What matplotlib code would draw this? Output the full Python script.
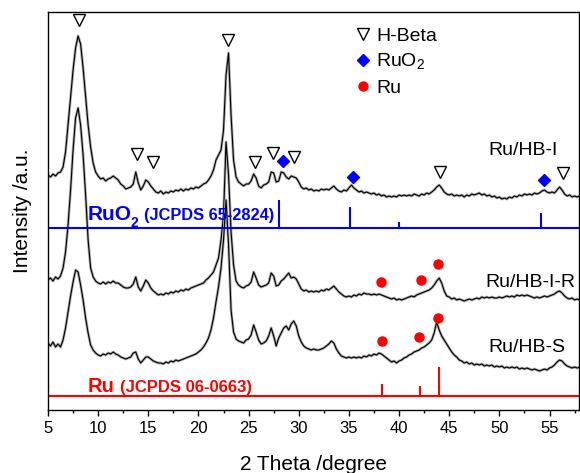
import numpy as np
import matplotlib.pyplot as plt
from matplotlib.lines import Line2D

plt.rcParams['font.family'] = ['Liberation Sans', 'DejaVu Sans']
plt.rcParams['mathtext.fontset'] = 'custom'
plt.rcParams['mathtext.rm'] = 'Liberation Sans'
plt.rcParams['mathtext.bf'] = 'Liberation Sans:bold'

# intensities, 2theta = 5 .. 58 in 0.25 steps (one row per degree)
ru_hb_i = [
    235, 233, 236, 234,   # 5
    237, 238, 243, 258,
    285, 312, 340, 362,
    374, 366, 342, 314,
    285, 263, 247, 238,
    234, 231, 232, 229,   # 10
    231, 232, 234, 232,
    230, 226, 224, 221,
    222, 223, 226, 238,
    227, 220, 224, 230,
    228, 224, 221, 218,   # 15
    217, 219, 216, 218,
    217, 219, 218, 220,
    219, 221, 219, 221,
    220, 222, 221, 223,
    222, 224, 226, 227,   # 20
    230, 234, 240, 250,
    255, 260, 280, 335,
    357, 295, 250, 233,
    228, 226, 224, 226,
    226, 229, 236, 232,   # 25
    224, 222, 225, 226,
    228, 238, 237, 228,
    229, 238, 237, 233,
    231, 234, 233, 232,
    228, 223, 221, 222,   # 30
    220, 221, 219, 220,
    219, 221, 220, 221,
    220, 222, 224, 221,
    219, 218, 220, 219,
    222, 225, 222, 220,   # 35
    218, 219, 217, 218,
    217, 216, 217, 215,
    216, 214, 215, 213,
    214, 213, 214, 213,
    215, 214, 215, 214,   # 40
    215, 214, 216, 215,
    214, 216, 215, 217,
    216, 218, 220, 223,
    225, 222, 218, 216,
    215, 216, 214, 215,   # 45
    214, 215, 213, 215,
    214, 216, 215, 216,
    217, 215, 216, 214,
    215, 213, 214, 212,
    213, 211, 212, 211,   # 50
    213, 212, 214, 213,
    215, 214, 216, 215,
    216, 215, 217, 216,
    217, 219, 220, 218,
    217, 218, 217, 220,   # 55
    223, 220, 216, 214,
    215, 213, 214, 213,
    214,                  # 58
]

ru_hb_i_r = [
    130, 132, 129, 133,   # 5
    131, 134, 142, 158,
    185, 220, 260, 292,
    302, 285, 255, 215,
    170, 142, 133, 129,
    127, 126, 128, 126,   # 10
    128, 127, 129, 127,
    127, 125, 123, 122,
    122, 123, 126, 133,
    123, 119, 124, 130,
    127, 122, 119, 117,   # 15
    115, 116, 115, 117,
    116, 118, 117, 119,
    118, 120, 119, 121,
    120, 122, 123, 124,
    125, 126, 127, 130,   # 20
    132, 135, 138, 145,
    152, 170, 195, 268,
    235, 178, 145, 129,
    125, 123, 122, 124,
    125, 128, 138, 132,   # 25
    125, 123, 124, 125,
    127, 137, 134, 124,
    125, 129, 131, 134,
    137, 132, 133, 131,
    126, 121, 119, 120,   # 30
    118, 119, 118, 119,
    118, 120, 119, 121,
    120, 122, 124, 121,
    118, 116, 114, 113,
    114, 113, 115, 114,   # 35
    116, 115, 117, 116,
    116, 115, 116, 115,
    116, 115, 114, 113,
    112, 111, 112, 110,
    111, 110, 111, 112,   # 40
    113, 114, 113, 115,
    116, 117, 118, 119,
    120, 122, 125, 129,
    132, 127, 119, 114,
    113, 111, 112, 110,   # 45
    111, 110, 109, 110,
    111, 110, 111, 112,
    111, 113, 112, 113,
    112, 113, 112, 112,
    113, 112, 113, 114,   # 50
    113, 114, 113, 115,
    114, 115, 114, 115,
    114, 113, 112, 113,
    112, 113, 114, 113,
    114, 115, 116, 118,   # 55
    119, 117, 114, 112,
    111, 112, 110, 111,
    110,                  # 58
]

ru_hb_s = [
    67, 64, 68, 63,       # 5
    66, 63, 70, 82,
    98, 114, 128, 140,
    138, 125, 110, 92,
    77, 65, 60, 57,
    55, 54, 56, 55,       # 10
    57, 56, 58, 56,
    55, 53, 52, 51,
    52, 53, 57, 58,
    51, 47, 50, 53,
    53, 51, 49, 48,       # 15
    47, 47, 46, 48,
    47, 49, 48, 50,
    49, 50, 51, 52,
    53, 54, 55, 56,
    58, 60, 63, 67,       # 20
    72, 80, 92, 108,
    123, 142, 170, 210,
    165, 100, 78, 71,
    69, 68, 67, 70,
    71, 75, 85, 78,       # 25
    70, 66, 67, 69,
    74, 82, 74, 64,
    72, 77, 82, 84,
    80, 86, 89, 84,
    74, 68, 64, 62,       # 30
    61, 60, 61, 60,
    60, 61, 62, 64,
    66, 69, 67, 61,
    57, 54, 53, 52,
    53, 52, 53, 52,       # 35
    53, 52, 54, 53,
    55, 54, 56, 55,
    57, 56, 54, 52,
    50, 48, 49, 47,
    49, 50, 52, 53,       # 40
    55, 56, 58, 59,
    60, 62, 63, 65,
    67, 70, 77, 88,
    80, 74, 70, 66,
    62, 58, 55, 53,       # 45
    50, 49, 47, 48,
    46, 47, 45, 46,
    45, 46, 44, 45,
    44, 45, 43, 44,
    43, 44, 42, 43,       # 50
    42, 43, 42, 43,
    41, 42, 41, 42,
    41, 40, 41, 40,
    39, 40, 41, 40,
    42, 43, 45, 48,       # 55
    50, 49, 46, 44,
    43, 42, 43, 42,
    43,                   # 58
]

two_theta = np.linspace(5, 58, len(ru_hb_i))

# reference patterns (stick positions and heights)
ruo2_pos = [28.0, 35.1, 40.0, 40.6, 45.0, 54.2]
ruo2_h = [28, 21, 6, 1.5, 1, 15]
ruo2_base = 182
ru_pos = [38.3, 42.1, 44.0]
ru_h = [12, 10, 29]
ru_base = 14

# phase markers
beta_x = [8.1, 22.95, 13.9, 15.5, 25.6, 27.4, 29.5, 44.1, 56.3]
beta_y = [390, 370, 256, 248, 248, 257, 253, 238, 237]
ruo2_x = [28.4, 35.4, 54.5]
ruo2_y = [249, 233, 230]
ru_x = [38.2, 42.2, 43.85, 38.3, 42.0, 43.85]
ru_y = [128, 130, 146, 69, 73, 92]

fig = plt.figure(figsize=(5.8, 4.73), dpi=100)
ax = fig.add_axes([48/580, 63/473, 530.6/580, 398/473])

for trace in (ru_hb_i, ru_hb_i_r, ru_hb_s):
    ax.plot(two_theta, trace, color='0.68', lw=2.0)
    ax.plot(two_theta, trace, color='black', lw=0.8)

ax.axhline(ruo2_base, color='blue', lw=1.5)
ax.vlines(ruo2_pos, ruo2_base, np.array(ruo2_h) + ruo2_base, color='blue', lw=1.5)
ax.axhline(ru_base, color='red', lw=1.5)
ax.vlines(ru_pos, ru_base, np.array(ru_h) + ru_base, color='red', lw=1.5)

ax.plot(beta_x, beta_y, 'v', ls='none', mfc='white', mec='black', ms=9, mew=1)
ax.plot(ruo2_x, ruo2_y, 'D', ls='none', color='blue', ms=6)
ax.plot(ru_x, ru_y, 'o', ls='none', color='red', ms=6.5)

# reference-pattern labels
ax.text(9.0, 190, 'RuO', color='blue', fontsize=15, fontweight='bold', va='baseline')
ax.text(13.25, 183, '2', color='blue', fontsize=10, fontweight='bold', va='baseline')
ax.text(14.55, 190, '(JCPDS 65-2824)', color='blue', fontsize=11.8, fontweight='bold', va='baseline')
ax.text(9.0, 18, 'Ru', color='red', fontsize=14.5, fontweight='bold', va='baseline')
ax.text(12.18, 18, '(JCPDS 06-0663)', color='red', fontsize=12, fontweight='bold', va='baseline')

ax.text(48.87, 260, 'Ru/HB-I', fontsize=14, va='center')
ax.text(48.57, 128, 'Ru/HB-I-R', fontsize=14, va='center')
ax.text(48.87, 63, 'Ru/HB-S', fontsize=14, va='center')

handles = [
    Line2D([], [], marker='v', ls='none', mfc='white', mec='black', ms=9, mew=1),
    Line2D([], [], marker='D', ls='none', color='blue', ms=6),
    Line2D([], [], marker='o', ls='none', color='red', ms=6.5),
]
ax.legend(handles, ['H-Beta', 'RuO$_2$', 'Ru'], loc='upper left', bbox_to_anchor=(0.581, 0.962),
          frameon=False, fontsize=14, handlelength=0.7, handletextpad=0.32, labelspacing=0.36,
          borderpad=0, borderaxespad=0)

ax.set_xlim(5, 57.9)
ax.set_ylim(0, 398)
ax.set_xticks([5, 10, 15, 20, 25, 30, 35, 40, 45, 50, 55])
ax.set_xticks(np.arange(7.5, 57.9, 5), minor=True)
ax.set_yticks([])
ax.tick_params(axis='x', which='major', direction='out', length=4, width=1, labelsize=12, pad=4)
ax.tick_params(axis='x', which='minor', direction='out', length=2.5, width=1)
for s in ax.spines.values():
    s.set_linewidth(1.0)

ax.set_xlabel('2 Theta /degree', fontsize=15)
ax.set_ylabel('Intensity /a.u.', fontsize=15)
ax.xaxis.set_label_coords(0.5, -0.113)
ax.yaxis.set_label_coords(-0.031, 0.5)

fig.savefig('out.png', dpi=100)
